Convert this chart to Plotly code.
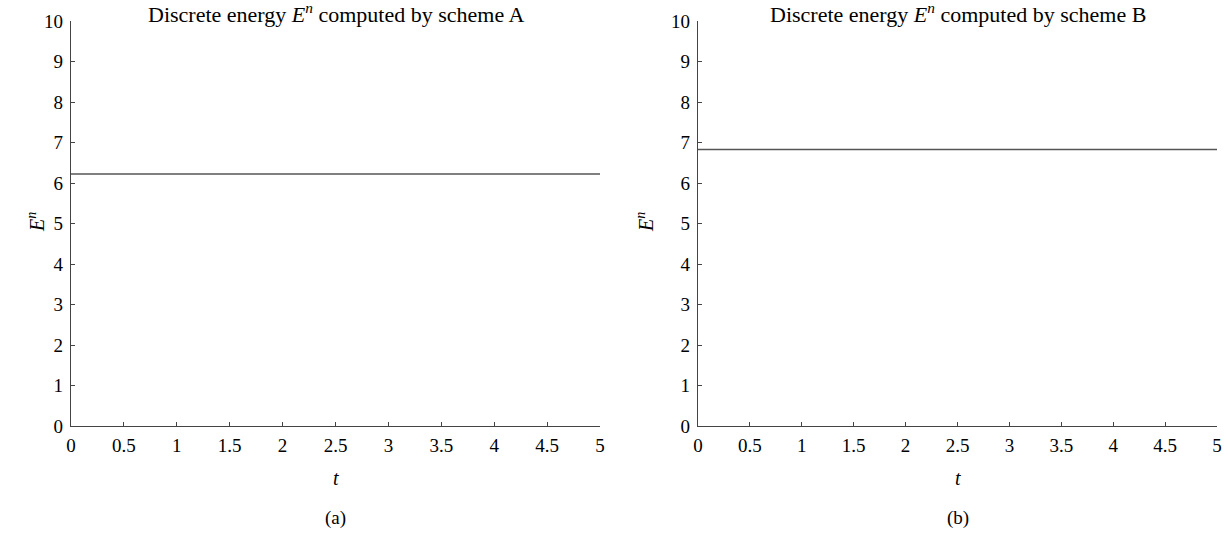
import plotly.graph_objects as go

t_vals = [0, 0.5, 1, 1.5, 2, 2.5, 3, 3.5, 4, 4.5, 5]
energy_A = [6.22] * 11
energy_B = [6.83] * 11
x_ticks = [0, 0.5, 1, 1.5, 2, 2.5, 3, 3.5, 4, 4.5, 5]
x_tick_text = ["0", "0.5", "1", "1.5", "2", "2.5", "3", "3.5", "4", "4.5", "5"]
y_ticks = list(range(0, 11))

W, H = 1228, 536
FONT = "Liberation Serif, Times New Roman, serif"

def px(x):
    return x / W

def py(y):
    return 1 - y / H

fig = go.Figure()
fig.add_trace(go.Scatter(x=t_vals, y=energy_A, mode="lines",
                         line=dict(color="#555555", width=1.5), xaxis="x", yaxis="y"))
fig.add_trace(go.Scatter(x=t_vals, y=energy_B, mode="lines",
                         line=dict(color="#555555", width=1.5), xaxis="x2", yaxis="y2"))

ydom = [py(426), py(21)]
xdomA = [px(71), px(600)]
xdomB = [px(698), px(1217)]

axis_common = dict(showgrid=False, zeroline=False, showline=True, linecolor="#444444",
                   linewidth=1.2, ticks="inside", ticklen=4, tickcolor="#444444",
                   automargin=False,
                   tickfont=dict(family=FONT, size=19, color="black"))

fig.update_layout(
    width=W, height=H, margin=dict(l=0, r=0, t=0, b=0, autoexpand=False),
    paper_bgcolor="white", plot_bgcolor="white", showlegend=False,
    xaxis=dict(domain=xdomA, range=[0, 5], tickvals=x_ticks, ticktext=x_tick_text,
               anchor="y", ticklabeloverflow="allow", ticklabelstandoff=2, **axis_common),
    yaxis=dict(domain=ydom, range=[0, 10], tickvals=y_ticks, anchor="x",
               ticklabelstandoff=3, **axis_common),
    xaxis2=dict(domain=xdomB, range=[0, 5], tickvals=x_ticks, ticktext=x_tick_text,
                anchor="y2", ticklabeloverflow="allow", ticklabelstandoff=2, **axis_common),
    yaxis2=dict(domain=ydom, range=[0, 10], tickvals=y_ticks, anchor="x2",
                ticklabelstandoff=3, **axis_common),
)

def ann(x, y, text, size=16, angle=0):
    fig.add_annotation(x=x, y=y, xref="paper", yref="paper", text=text, showarrow=False,
                       textangle=angle, font=dict(family=FONT, size=size, color="black"),
                       xanchor="center", yanchor="middle")

for xd, letter, cap, ex in [((71, 600), "A", "(a)", 36), ((698, 1217), "B", "(b)", 645)]:
    cx = px((xd[0] + xd[1]) / 2)
    ann(cx, py(13), "Discrete energy <i>E<sup>n</sup></i> computed by scheme " + letter, size=22)
    ann(cx, py(478), "<i>t</i>", size=20)
    ann(cx, py(518), cap, size=19)
    ann(px(ex), py(222), "<i>E<sup>n</sup></i>", size=20, angle=-90)

fig.write_html("out.html", config={"displayModeBar": False},
               post_script="document.body.style.margin='0';")
